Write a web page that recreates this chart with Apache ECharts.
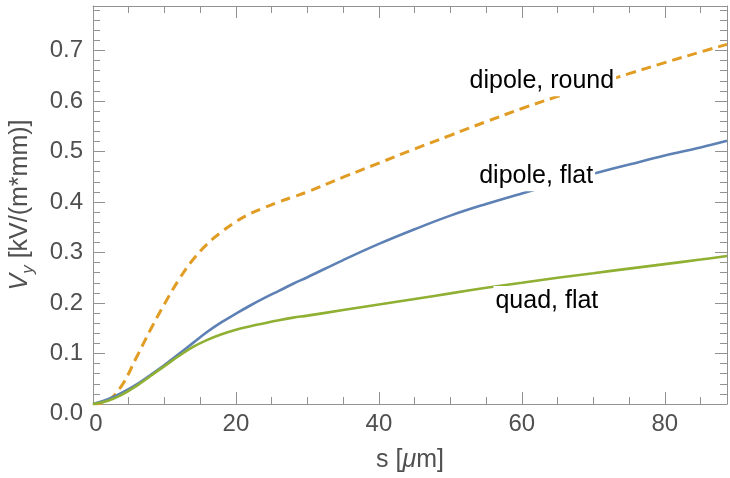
<!DOCTYPE html>
<html><head><meta charset="utf-8">
<script src="https://cdn.jsdelivr.net/npm/echarts@6/dist/echarts.min.js"></script>
<style>html,body{margin:0;padding:0;background:#fff}#c{width:730px;height:478px}</style>
</head><body><div id="c"></div>
<script>
const sGrid =       [0, 2, 4, 6, 8, 10, 12, 14, 16, 18, 20, 22, 24, 26, 28, 30, 35, 40, 45, 50, 55, 60, 65, 70, 75, 80, 85, 88.7];
const dipoleRound = [0, 0.006, 0.036, 0.090, 0.146, 0.198, 0.246, 0.286, 0.317, 0.341, 0.361, 0.377, 0.389, 0.400, 0.410, 0.420, 0.449, 0.477, 0.505, 0.532, 0.559, 0.585, 0.609, 0.632, 0.654, 0.676, 0.697, 0.712];
const dipoleFlat =  [0, 0.009, 0.022, 0.038, 0.057, 0.077, 0.099, 0.121, 0.143, 0.162, 0.179, 0.195, 0.210, 0.224, 0.238, 0.251, 0.285, 0.317, 0.346, 0.373, 0.396, 0.417, 0.437, 0.456, 0.474, 0.492, 0.508, 0.521];
const quadFlat =    [0, 0.006, 0.018, 0.035, 0.055, 0.075, 0.095, 0.113, 0.127, 0.138, 0.147, 0.154, 0.160, 0.166, 0.171, 0.175, 0.186, 0.197, 0.208, 0.219, 0.230, 0.240, 0.250, 0.259, 0.268, 0.277, 0.286, 0.293];
const seriesNames = ['dipole, round', 'dipole, flat', 'quad, flat'];
const labelCoords = [[62.8, 0.640], [62.0, 0.452], [63.5, 0.203]];
const xRange = [0, 88.7];
const yRange = [0, 0.788];
const xMajor = 20, xMinor = 5, yMajor = 0.1, yMinor = 0.02;

const FONT = '"Liberation Sans", Arial, sans-serif';
const AX = '#929292';
const TXT = '#505050';
const COLORS = ['#E19C24', '#5E81B5', '#8FB032'];

function isMult(v, step) { return Math.abs(v / step - Math.round(v / step)) < 1e-6; }

function mkX(pos, interval, len, showLine, labels) {
  const a = {
    type: 'value', position: pos, min: xRange[0], max: xRange[1], interval: interval,
    axisLine: { show: showLine, onZero: false, lineStyle: { color: AX, width: 1 } },
    axisTick: { show: true, inside: true, length: len, lineStyle: { color: AX, width: 1 } },
    splitLine: { show: false },
    axisLabel: { show: false }
  };
  if (labels) {
    a.axisLabel = {
      show: true, margin: 8, fontSize: 24, color: TXT, fontFamily: FONT,
      formatter: v => { if (!isMult(v, xMajor)) return ''; const r = Math.round(v); return r === 0 ? '{z|0}' : String(r); },
      rich: { z: { padding: [0, 0, 0, 6], fontSize: 24, color: TXT, fontFamily: FONT } }
    };
    a.name = '{n|s [}{i|μ}{n|m]}';
    a.nameLocation = 'middle';
    a.nameGap = 44;
    a.nameTextStyle = {
      rich: {
        n: { fontSize: 25, color: TXT, fontFamily: FONT },
        i: { fontSize: 25, color: TXT, fontFamily: FONT, fontStyle: 'italic' }
      }
    };
  }
  return a;
}
function mkY(pos, interval, len, showLine, labels) {
  const a = {
    type: 'value', position: pos, min: yRange[0], max: yRange[1], interval: interval,
    axisLine: { show: showLine, onZero: false, lineStyle: { color: AX, width: 1 } },
    axisTick: { show: true, inside: true, length: len, lineStyle: { color: AX, width: 1 } },
    splitLine: { show: false },
    axisLabel: { show: false }
  };
  if (labels) {
    a.axisLabel = {
      show: true, margin: 10, fontSize: 24, color: TXT, fontFamily: FONT,
      formatter: v => { if (!isMult(v, yMajor)) return ''; const t = (Math.round(v * 10) / 10).toFixed(1); return t === '0.0' ? '{z|0.0}' : t; },
      rich: { z: { padding: [18, 0, 0, 0], fontSize: 24, color: TXT, fontFamily: FONT } }
    };
    a.name = '{i|V}{s|y}{n| [kV/(m*mm)]}';
    a.nameLocation = 'middle';
    a.nameGap = 56;
    a.nameTextStyle = {
      rich: {
        i: { fontSize: 25, color: TXT, fontFamily: FONT, fontStyle: 'italic', verticalAlign: 'bottom', padding: [0, 0, 4, 0] },
        s: { fontSize: 17, color: TXT, fontFamily: FONT, fontStyle: 'italic', verticalAlign: 'bottom' },
        n: { fontSize: 25, color: TXT, fontFamily: FONT, verticalAlign: 'bottom', padding: [0, 0, 4, 0] }
      }
    };
  }
  return a;
}

const dataSets = [dipoleRound, dipoleFlat, quadFlat];
const series = dataSets.map((arr, k) => ({
  name: seriesNames[k],
  type: 'line',
  xAxisIndex: 0, yAxisIndex: 0,
  data: sGrid.map((s, i) => [s, arr[i]]),
  showSymbol: false, symbol: 'none',
  smooth: 0.4,
  clip: true,
  z: 3,
  lineStyle: { color: COLORS[k], width: k === 0 ? 3 : 2.6, type: k === 0 ? [10, 6] : 'solid' },
  markPoint: {
    z: 10,
    symbol: 'circle', symbolSize: 1,
    itemStyle: { color: 'rgba(0,0,0,0)' },
    label: {
      show: true, position: 'inside', formatter: seriesNames[k],
      fontSize: 25, color: '#000', fontFamily: FONT,
      backgroundColor: '#ffffff', padding: [3, 2]
    },
    data: [{ coord: labelCoords[k] }]
  }
}));

const chart = echarts.init(document.getElementById('c'), null, { renderer: 'canvas' });
chart.setOption({
  animation: false,
  backgroundColor: '#ffffff',
  grid: { left: 93, right: 2, top: 6, bottom: 73, containLabel: false },
  xAxis: [
    mkX('bottom', xMajor, 12, true, true),
    mkX('bottom', xMinor, 7, false, false),
    mkX('top', xMajor, 12, true, false),
    mkX('top', xMinor, 7, false, false)
  ],
  yAxis: [
    mkY('left', yMajor, 12, true, true),
    mkY('left', yMinor, 7, false, false),
    mkY('right', yMajor, 12, true, false),
    mkY('right', yMinor, 7, false, false)
  ],
  series: series
});
</script>
</body></html>
